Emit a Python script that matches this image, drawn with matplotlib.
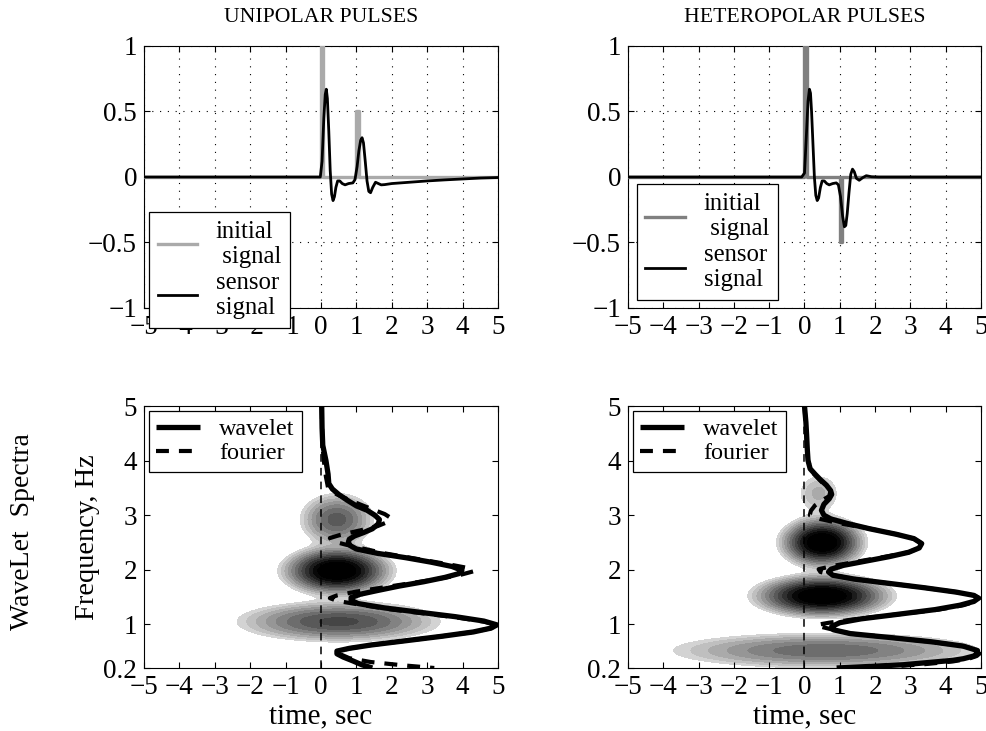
import numpy as np
import matplotlib
matplotlib.use('Agg')
import matplotlib.pyplot as plt

plt.rcParams['font.family'] = ['Liberation Serif', 'DejaVu Serif']
plt.rcParams['axes.unicode_minus'] = True

# ---- top row: pulses ----
initTime = [-5, 0, 0, 0.06, 0.06, 1, 1, 1.06, 1.06, 5]
initUni = [0, 0, 1, 1, 0, 0, 0.5, 0.5, 0, 0]
initHetero = [0, 0, 1, 1, 0, 0, -0.5, -0.5, 0, 0]

sensUniTime = [-5, -0.1, -0.02, 0.03, 0.08, 0.12, 0.15, 0.18, 0.22, 0.26, 0.30, 0.34, 0.38,
               0.42, 0.47, 0.53, 0.6, 0.68, 0.78, 0.9, 0.96, 1.02, 1.07, 1.12, 1.16, 1.2,
               1.25, 1.3, 1.35, 1.4, 1.46, 1.54, 1.62, 1.7, 1.8, 2.0, 2.5, 3.0, 3.5, 4.0, 4.5, 5.0]
sensUni = [0, 0, 0.0, 0.12, 0.45, 0.63, 0.67, 0.6, 0.35, 0.05, -0.13, -0.18, -0.15,
           -0.08, -0.03, -0.03, -0.05, -0.06, -0.05, -0.045, -0.02, 0.08, 0.2, 0.28, 0.30, 0.26,
           0.12, -0.03, -0.11, -0.12, -0.08, -0.04, -0.05, -0.06, -0.058, -0.05, -0.04, -0.03,
           -0.022, -0.015, -0.008, -0.004]

sensHetTime = [-5, -0.08, 0.0, 0.05, 0.1, 0.14, 0.17, 0.2, 0.24, 0.28, 0.32, 0.36, 0.4, 0.45,
               0.5, 0.56, 0.63, 0.7, 0.8, 0.9, 0.96, 1.02, 1.08, 1.13, 1.17, 1.21, 1.26, 1.31,
               1.36, 1.41, 1.47, 1.55, 1.65, 1.75, 1.9, 2.1, 5]
sensHet = [0, 0, 0.03, 0.3, 0.58, 0.67, 0.64, 0.5, 0.25, 0.0, -0.14, -0.18, -0.16, -0.08,
           -0.03, -0.03, -0.05, -0.06, -0.05, -0.045, -0.06, -0.15, -0.3, -0.38, -0.37, -0.28,
           -0.12, 0.02, 0.06, 0.04, -0.01, -0.025, -0.005, 0.01, 0.002, 0, 0]

# ---- bottom row: wavelet / fourier spectra (frequency, time-scaled magnitude) ----
wavUniF = [5.0, 4.6, 4.28, 4.0, 3.75, 3.58, 3.48, 3.38, 3.27, 3.17, 3.09, 3.0, 2.92, 2.84,
           2.75, 2.68, 2.62, 2.56, 2.5, 2.44, 2.38, 2.3, 2.22, 2.14, 2.06, 1.99, 1.93, 1.86,
           1.78, 1.7, 1.62, 1.55, 1.49, 1.44, 1.38, 1.3, 1.22, 1.14, 1.06, 0.99, 0.93, 0.86,
           0.78, 0.7, 0.62, 0.56, 0.51, 0.46, 0.4, 0.33, 0.26, 0.2]
wavUniT = [0.02, 0.03, 0.05, 0.14, 0.2, 0.22, 0.32, 0.5, 0.75, 1.0, 1.3, 1.52, 1.65, 1.62,
           1.45, 1.2, 0.95, 0.8, 0.77, 0.83, 1.0, 1.6, 2.4, 3.1, 3.7, 3.98, 3.9, 3.5,
           2.9, 2.2, 1.6, 1.1, 0.85, 0.85, 1.05, 1.8, 2.8, 3.8, 4.6, 4.97, 4.8, 4.3,
           3.4, 2.4, 1.4, 0.8, 0.45, 0.45, 0.63, 0.9, 1.15, 1.45]

fouUniF = [5.0, 4.3, 4.0, 3.7, 3.5, 3.43, 3.35, 3.25, 3.12, 3.02, 2.95, 2.88, 2.8, 2.72,
           2.64, 2.58, 2.52, 2.46, 2.4, 2.3, 2.2, 2.1, 2.02, 1.97, 1.9, 1.8, 1.7, 1.6, 1.53,
           1.48, 1.43, 1.36, 1.28, 1.2, 1.12, 1.05, 0.99, 0.93, 0.86, 0.78, 0.7, 0.62, 0.56,
           0.51, 0.45, 0.38, 0.31, 0.25, 0.2]
fouUniT = [0.02, 0.04, 0.08, 0.14, 0.2, 0.3, 0.55, 0.9, 1.4, 1.8, 1.97, 1.9, 1.6, 1.1,
           0.55, 0.25, 0.35, 0.7, 1.1, 1.8, 2.7, 3.6, 4.25, 4.3, 3.9, 3.0, 2.0, 1.0, 0.45,
           0.25, 0.45, 1.1, 1.9, 2.9, 3.9, 4.6, 5.0, 4.8, 4.3, 3.4, 2.4, 1.4, 0.8,
           0.5, 0.55, 0.8, 1.4, 2.3, 3.2]

wavHetF = [5.0, 4.7, 4.47, 4.2, 4.0, 3.85, 3.75, 3.65, 3.55, 3.45, 3.38, 3.3, 3.2, 3.09,
           3.0, 2.93, 2.85, 2.75, 2.65, 2.57, 2.48, 2.4, 2.32, 2.24, 2.16, 2.08, 2.01, 1.96,
           1.9, 1.83, 1.75, 1.67, 1.59, 1.53, 1.48, 1.42, 1.35, 1.27, 1.18, 1.1, 1.03, 0.96,
           0.9, 0.83, 0.76, 0.68, 0.6, 0.52, 0.47, 0.42, 0.37, 0.34, 0.3, 0.26, 0.23, 0.2]
wavHetT = [0.0, 0.04, 0.06, 0.08, 0.1, 0.16, 0.3, 0.45, 0.62, 0.74, 0.77, 0.7, 0.55, 0.48,
           0.55, 0.75, 1.2, 1.85, 2.6, 3.1, 3.32, 3.25, 2.95, 2.4, 1.75, 1.1, 0.75, 0.68,
           0.8, 1.4, 2.4, 3.4, 4.3, 4.8, 4.93, 4.8, 4.4, 3.7, 2.6, 1.6, 1.0, 0.77,
           0.82, 1.3, 2.4, 3.6, 4.5, 4.9, 4.9, 4.8, 4.5, 4.2, 3.5, 2.8, 1.9, 0.91]

fouHetF = [5.0, 4.0, 3.8, 3.6, 3.45, 3.35, 3.27, 3.18, 3.08, 3.0, 2.93, 2.85, 2.76, 2.65,
           2.57, 2.48, 2.4, 2.32, 2.24, 2.15, 2.07, 2.01, 1.96, 1.9, 1.83, 1.75, 1.67, 1.59,
           1.53, 1.48, 1.42, 1.35, 1.27, 1.18, 1.1, 1.03, 0.99, 0.95, 0.9, 0.83, 0.76, 0.68,
           0.6, 0.52, 0.47, 0.42, 0.37, 0.32, 0.27, 0.23, 0.2]
fouHetT = [0.0, 0.1, 0.2, 0.5, 0.74, 0.7, 0.5, 0.3, 0.18, 0.15, 0.45, 1.0, 1.8, 2.6,
           3.1, 3.32, 3.25, 2.95, 2.3, 1.5, 0.8, 0.4, 0.45, 0.8, 1.4, 2.4, 3.4, 4.3,
           4.8, 4.95, 4.85, 4.5, 3.8, 2.6, 1.5, 0.7, 0.35, 0.5, 0.82, 1.3, 2.4, 3.6,
           4.5, 4.95, 4.97, 4.88, 4.65, 4.2, 3.4, 2.5, 1.6]

# wavelet energy blobs: centre time, centre freq, spreads, peak level
uniBlobT = [0.5, 0.45, 0.45]
uniBlobF = [1.05, 1.98, 2.92]
uniSigT = [1.375, 0.66, 0.52]
uniSigF = [0.18, 0.19, 0.24]
uniAmp = [0.353, 1.0, 0.29]

hetBlobT = [0.4, 0.5, 0.5, 0.6]
hetBlobF = [3.4, 2.5, 1.52, 0.52]
hetSigT = [0.38, 0.51, 0.83, 2.25]
hetSigF = [0.23, 0.197, 0.166, 0.167]
hetAmp = [0.094, 1.0, 1.0, 0.25]

xTicks = [-5, -4, -3, -2, -1, 0, 1, 2, 3, 4, 5]
xTickLabels = ['\u22125', '\u22124', '\u22123', '\u22122', '\u22121', '0', '1', '2', '3', '4', '5']
sigTicks = [-1, -0.5, 0, 0.5, 1]
sigTickLabels = ['\u22121', '\u22120.5', '0', '0.5', '1']
fqTicks = [0.2, 1, 2, 3, 4, 5]
fqTickLabels = ['0.2', '1', '2', '3', '4', '5']

W, H = 987, 731
fig = plt.figure(figsize=(W / 100, H / 100), dpi=100)


def px_axes(x0, y0, x1, y1):
  return fig.add_axes([x0 / W, 1 - y1 / H, (x1 - x0) / W, (y1 - y0) / H])


def style_axes(ax):
  ax.tick_params(direction='in', top=True, right=True, length=4, width=0.8,
                 labelsize=19.5, pad=5)
  for s in ax.spines.values():
    s.set_linewidth(0.8)
  ax.set_xlim(-5, 5)
  ax.set_xticks(xTicks)
  ax.set_xticklabels(xTickLabels)


def plot_signal(ax, init, initColor, sensT, sens, legendAnchor):
  style_axes(ax)
  ax.plot(initTime, init, color=initColor, lw=2.4, label='initial\n signal', zorder=3)
  ax.plot(sensT, sens, color='k', lw=2.0, label='sensor\nsignal', zorder=4)
  ax.set_ylim(-1, 1)
  ax.set_yticks(sigTicks)
  ax.set_yticklabels(sigTickLabels)
  ax.grid(True, color='k', linestyle=(0, (1, 6)), linewidth=0.8)
  leg = ax.legend(loc='lower left', bbox_to_anchor=legendAnchor, fontsize=17.8,
                  frameon=True, fancybox=False, framealpha=1, edgecolor='k',
                  handlelength=1.6, handletextpad=0.75, borderpad=0.35,
                  labelspacing=0.15, borderaxespad=0)
  leg.get_frame().set_linewidth(0.9)
  leg.set_zorder(10)


def plot_spectrum(ax, bT, bF, sT, sF, amp, wF, wT, fF, fT):
  style_axes(ax)
  tt, ff = np.meshgrid(np.linspace(-5, 5, 300), np.linspace(0.2, 5, 300))
  zz = np.zeros_like(tt)
  for i in range(len(bT)):
    zz += amp[i] * np.exp(-0.5 * ((tt - bT[i]) / sT[i]) ** 2 - 0.5 * ((ff - bF[i]) / sF[i]) ** 2)
  # compressed shading: light rim, broad dark core
  zz = np.clip(zz, 0, 0.999) ** 0.3
  ax.contourf(tt, ff, zz, levels=np.linspace(0.04 ** 0.3, 1.0, 14), cmap='gray_r',
              vmin=0.3, vmax=0.9, zorder=1)
  ax.plot([0, 0], [0.2, 5], color='k', lw=1.1, linestyle=(0, (5, 4)), zorder=2)
  ax.plot(fT, fF, color='k', lw=3.0, linestyle=(0, (3.1, 2.4)), label='fourier', zorder=3)
  ax.plot(wT, wF, color='k', lw=3.8, label='wavelet', zorder=4, solid_capstyle='butt')
  ax.set_ylim(0.2, 5)
  ax.set_yticks(fqTicks)
  ax.set_yticklabels(fqTickLabels)
  h, l = ax.get_legend_handles_labels()
  leg = ax.legend(h[::-1], l[::-1], loc='upper left', fontsize=17.4, frameon=True,
                  fancybox=False, framealpha=1, edgecolor='k', handlelength=1.8,
                  handletextpad=0.8, borderpad=0.3, labelspacing=0.1,
                  borderaxespad=0.2)
  leg.get_frame().set_linewidth(0.9)
  leg.set_zorder(10)


ax1 = px_axes(144, 46, 498, 308)
plot_signal(ax1, initUni, '#aaaaaa', sensUniTime, sensUni, (0.014, -0.076))
ax2 = px_axes(628, 46, 981, 308)
plot_signal(ax2, initHetero, '#808080', sensHetTime, sensHet, (0.025, 0.03))

ax3 = px_axes(144, 406, 498, 668)
plot_spectrum(ax3, uniBlobT, uniBlobF, uniSigT, uniSigF, uniAmp, wavUniF, wavUniT, fouUniF, fouUniT)
ax4 = px_axes(628, 406, 981, 668)
plot_spectrum(ax4, hetBlobT, hetBlobF, hetSigT, hetSigF, hetAmp, wavHetF, wavHetT, fouHetF, fouHetT)

fig.text(321 / W, 1 - 18 / H, 'UNIPOLAR PULSES', ha='center', va='center', fontsize=15.7)
fig.text(805 / W, 1 - 18 / H, 'HETEROPOLAR PULSES', ha='center', va='center', fontsize=15.7)
fig.text(321 / W, 1 - 716 / H, 'time, sec', ha='center', va='center', fontsize=21)
fig.text(805 / W, 1 - 716 / H, 'time, sec', ha='center', va='center', fontsize=21)
fig.text(88 / W, 1 - 537 / H, 'Frequency, Hz', ha='center', va='center', rotation=90, fontsize=20.5)
fig.text(23 / W, 1 - 532 / H, 'WaveLet  Spectra', ha='center', va='center', rotation=90, fontsize=20)

fig.savefig('out.png', dpi=100)
